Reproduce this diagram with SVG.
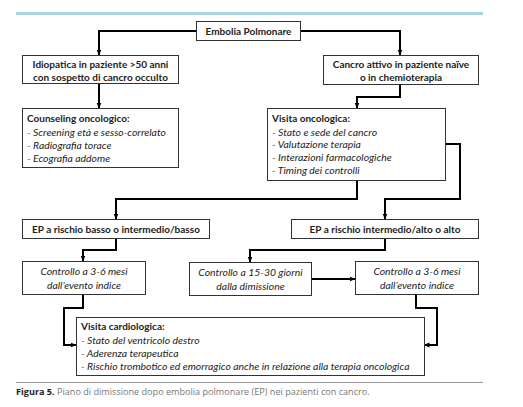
<svg xmlns="http://www.w3.org/2000/svg" width="523" height="407" viewBox="0 0 523 407">
<defs>
<marker id="ah" markerUnits="userSpaceOnUse" markerWidth="6" markerHeight="6" viewBox="0 0 6 6" refX="5.5" refY="3" orient="auto">
<path d="M0,0.5 L6,3 L0,5.5 Z" fill="#000"/>
</marker>
<style>
.box{fill:#fff;stroke:#333;stroke-width:1}
.t{font-family:Lato,"Liberation Sans",sans-serif;font-size:10px;fill:#222}
.b{font-weight:bold}
.i{font-style:italic;font-size:10.4px}
.c{text-anchor:middle}
.con{fill:none;stroke:#000;stroke-width:2;marker-end:url(#ah)}
</style>
</defs>
<rect x="0" y="0" width="523" height="407" fill="#fff"/>
<line x1="16" y1="13.5" x2="483" y2="13.5" stroke="#a9d3e3" stroke-width="3"/>

<g id="connectors">
<path class="con" d="M196,31 H99 V55"/>
<path class="con" d="M300,31 H400 V55"/>
<path class="con" d="M99,83 V108"/>
<path class="con" d="M400,84 V97 H357 V108"/>
<path class="con" d="M357,180 V199 H116 V219"/>
<path class="con" d="M445,144 H460 V199 H385 V219"/>
<path class="con" d="M116,238 V250 H83 V261"/>
<path class="con" d="M385,238 V250 H250 V262"/>
<path class="con" d="M311,279 H355"/>
<path class="con" d="M83,294 V308 H64 V345 H76"/>
<path class="con" d="M416,294 V308 H437 V345 H424"/>
</g>

<g id="n-embolia">
<rect class="box" x="196.5" y="21.5" width="104" height="19"/>
<text class="t b c" x="248.5" y="34.5">Embolia Polmonare</text>
</g>
<g id="n-idiopatica">
<rect class="box" x="22.5" y="55.5" width="156" height="28"/>
<text class="t b c" x="100.5" y="67.5">Idiopatica in paziente &gt;50 anni</text>
<text class="t b c" x="100.5" y="80.5">con sospetto di cancro occulto</text>
</g>
<g id="n-cancro">
<rect class="box" x="323.5" y="55.5" width="155" height="29"/>
<text class="t b c" x="401" y="67.5">Cancro attivo in paziente naïve</text>
<text class="t b c" x="401" y="80.5">o in chemioterapia</text>
</g>
<g id="n-counseling">
<rect class="box" x="22.5" y="108.5" width="156" height="59"/>
<text class="t b" x="27" y="122">Counseling oncologico:</text>
<text class="t i" x="27" y="135.5">- Screening età e sesso-correlato</text>
<text class="t i" x="27" y="148.5">- Radiografia torace</text>
<text class="t i" x="27" y="161.5">- Ecografia addome</text>
</g>
<g id="n-visita-onc">
<rect class="box" x="267.5" y="108.5" width="178" height="72"/>
<text class="t b" x="272" y="122">Visita oncologica:</text>
<text class="t i" x="272" y="135.5">- Stato e sede del cancro</text>
<text class="t i" x="272" y="148">- Valutazione terapia</text>
<text class="t i" x="272" y="160.5">- Interazioni farmacologiche</text>
<text class="t i" x="272" y="173.5">- Timing dei controlli</text>
</g>
<g id="n-ep-basso">
<rect class="box" x="22.5" y="219.5" width="187" height="19"/>
<text class="t b c" x="116" y="232.5">EP a rischio basso o intermedio/basso</text>
</g>
<g id="n-ep-alto">
<rect class="box" x="291.5" y="219.5" width="187" height="19"/>
<text class="t b c" x="385" y="232.5">EP a rischio intermedio/alto o alto</text>
</g>
<g id="n-ctrl-left">
<rect class="box" x="22.5" y="261.5" width="123" height="33"/>
<text class="t i c" x="84" y="275">Controllo a 3-6 mesi</text>
<text class="t i c" x="84" y="288.5">dall’evento indice</text>
</g>
<g id="n-ctrl-15">
<rect class="box" x="189.5" y="262.5" width="122" height="33"/>
<text class="t i c" x="250.5" y="276">Controllo a 15-30 giorni</text>
<text class="t i c" x="250.5" y="289.5">dalla dimissione</text>
</g>
<g id="n-ctrl-right">
<rect class="box" x="355.5" y="261.5" width="123" height="33"/>
<text class="t i c" x="417" y="275">Controllo a 3-6 mesi</text>
<text class="t i c" x="417" y="288.5">dall’evento indice</text>
</g>
<g id="n-visita-card">
<rect class="box" x="76.5" y="317.5" width="348" height="58"/>
<text class="t b" x="81" y="330">Visita cardiologica:</text>
<text class="t i" x="81" y="344">- Stato del ventricolo destro</text>
<text class="t i" x="81" y="357">- Aderenza terapeutica</text>
<text class="t i" x="81" y="370">- Rischio trombotico ed emorragico anche in relazione alla terapia oncologica</text>
</g>

<line x1="16" y1="382.5" x2="483" y2="382.5" stroke="#999" stroke-width="1"/>
<text x="16" y="394.5" style="font-family:'Open Sans','Liberation Sans',sans-serif;font-size:9.1px;fill:#777"><tspan style="font-weight:bold;fill:#222">Figura 5.</tspan> Piano di dimissione dopo embolia polmonare (EP) nei pazienti con cancro.</text>
</svg>
